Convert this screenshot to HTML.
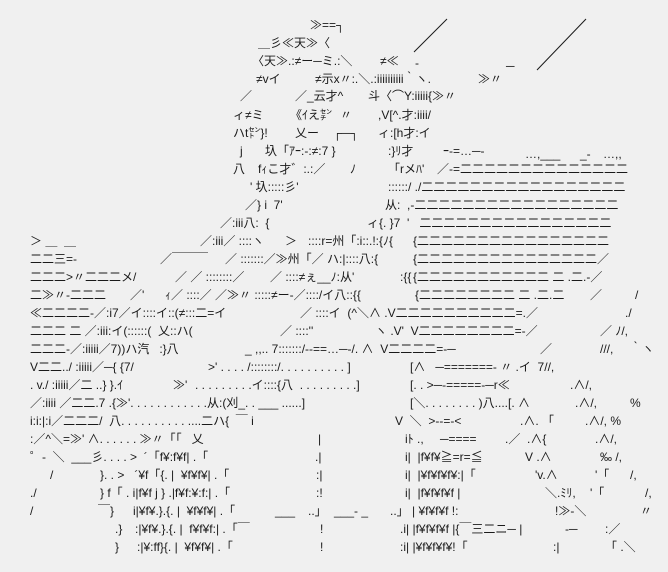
<!DOCTYPE html>
<html><head><meta charset="utf-8">
<style>
html,body{margin:0;padding:0;background:#f0f0f0;}
#c{position:relative;width:668px;height:572px;overflow:hidden;background:#f0f0f0;}
#c span{position:absolute;white-space:pre;font-family:"Liberation Sans","Noto Sans CJK JP",sans-serif;font-size:12px;line-height:16px;color:#1a1a1a;}
#c svg{position:absolute;left:0;top:0;}
</style></head><body><div id="c">
<svg width="668" height="572"><line x1="414" y1="52" x2="447" y2="19" stroke="#1a1a1a" stroke-width="1"/><line x1="537" y1="70" x2="586" y2="19" stroke="#1a1a1a" stroke-width="1"/></svg>
<span style="left:310px;top:17px">≫==┐</span>
<span style="left:258px;top:35px">＿彡≪天≫〈</span>
<span style="left:252px;top:53px">〈天≫.:≠ー─ミ.:＼</span><span style="left:380px;top:53px">≠≪</span><span style="left:415px;top:55px">-</span><span style="left:506px;top:58px">─</span>
<span style="left:256px;top:71px">≠vイ</span><span style="left:315px;top:71px">≠示x〃:.＼.:iiiiiiiiii｀ヽ.</span><span style="left:478px;top:71px">≫〃</span>
<span style="left:240px;top:88px">／</span><span style="left:295px;top:88px">／_云才^</span><span style="left:368px;top:88px">斗〈⌒Y:iiiii{≫〃</span>
<span style="left:233px;top:107px">ィ≠ミ</span><span style="left:290px;top:107px">《ｲえ㌢</span><span style="left:340px;top:107px">〃</span><span style="left:378px;top:107px">,V[^.才:iiii/</span>
<span style="left:233px;top:125px">ハt㌣}!</span><span style="left:295px;top:125px">乂ー</span><span style="left:333px;top:125px">┌─┐</span><span style="left:378px;top:125px">ィ:[h才:イ</span>
<span style="left:240px;top:143px">j</span><span style="left:265px;top:143px">圦「ｱｰ:-:≠:7 }</span><span style="left:388px;top:143px">:}ﾘ才</span><span style="left:443px;top:143px">ｰ-=…─-</span><span style="left:525px;top:146px">…,___</span><span style="left:580px;top:146px">_-</span><span style="left:603px;top:146px">…,,</span>
<span style="left:233px;top:161px">八</span><span style="left:258px;top:161px">fｨこ才゛:.:／</span><span style="left:350px;top:161px">ﾉ</span><span style="left:388px;top:161px">「rメﾊ'</span><span style="left:437px;top:161px">／-=二二二二二二二二二二二二二二</span>
<span style="left:250px;top:179px">' 圦:::::彡'</span><span style="left:388px;top:179px">::::::/ ./二二二二二二二二二二二二二二二二二</span>
<span style="left:245px;top:197px">／} i  7'</span><span style="left:385px;top:197px">从:  ,-二二二二二二二二二二二二二二二二二</span>
<span style="left:220px;top:215px">／:iii八:  {</span><span style="left:367px;top:215px">ィ{. }7  '   二二二二二二二二二二二二二二二二</span>
<span style="left:30px;top:233px">＞ ＿  ＿</span><span style="left:200px;top:233px">／:iii／ ::::ヽ</span><span style="left:285px;top:233px">＞</span><span style="left:308px;top:233px">::::r=州「:i::.!:{ﾉ{</span><span style="left:413px;top:233px">{二二二二二二二二二二二二二二二二</span>
<span style="left:30px;top:251px">二二三=-</span><span style="left:160px;top:251px">／￣￣￣</span><span style="left:225px;top:251px">／ :::::::／≫州「／ ハ:|::::八:{</span><span style="left:413px;top:251px">{二二二二二二二二二二二二二二二／</span>
<span style="left:30px;top:269px">二二二>〃二二二メ/</span><span style="left:175px;top:269px">／ ／ ::::::::／</span><span style="left:270px;top:269px">／ ::::≠ぇ__ﾉ:从'</span><span style="left:400px;top:269px">:{{</span><span style="left:413px;top:269px">{二二二二二二二二二二二 二 .二.-／</span>
<span style="left:30px;top:287px">二≫〃-二二二</span><span style="left:130px;top:287px">／'</span><span style="left:165px;top:287px">ｨ／ ::::／ ／≫〃 :::::≠ー-／::::/イ八::{{</span><span style="left:415px;top:287px">{二二二二二二二二 二 .二.二</span><span style="left:590px;top:287px">／</span><span style="left:635px;top:287px">/</span>
<span style="left:30px;top:305px">≪二二二二-／:i7／イ::::イ::(≠:::二=イ</span><span style="left:300px;top:305px">／ ::::イ  (^＼∧ .V二二二二二二二二二二=.／</span><span style="left:625px;top:305px">./</span>
<span style="left:30px;top:323px">二二二 二 ／:iii:イ(::::::(  乂::ハ(</span><span style="left:280px;top:323px">／ ::::''</span><span style="left:375px;top:323px">ヽ .V'  V二二二二二二二二=-／</span><span style="left:600px;top:323px">／ ﾉ/,</span>
<span style="left:30px;top:341px">二二二-／:iiiii／7))ハ汽   :}八</span><span style="left:245px;top:341px">_ ,,.. 7:::::::/--==…─-/. ∧  V二二二二=-─</span><span style="left:540px;top:341px">／</span><span style="left:600px;top:341px">///,</span><span style="left:630px;top:341px">｀ヽ</span>
<span style="left:30px;top:359px">V二二../ :iiiii／─{ {7/</span><span style="left:208px;top:359px">&gt;' . . . . /::::::::/. . . . . . . . . . ]</span><span style="left:410px;top:359px">[∧   ─=======- 〃 .イ  7//,</span>
<span style="left:30px;top:377px">. v./ :iiiii／二 ..} }.ｲ</span><span style="left:173px;top:377px">≫'</span><span style="left:195px;top:377px">. . . . . . . . .イ::::{八  . . . . . . . . .]</span><span style="left:410px;top:377px">[. . &gt;─-=====-─r≪</span><span style="left:570px;top:377px">.∧/,</span>
<span style="left:30px;top:395px">／:iiii ／二二.7 .{≫'. . . . . . . . . . . .从:(刈_. . ___ ......]</span><span style="left:410px;top:395px">[＼. . . . . . . . )八....[. ∧</span><span style="left:575px;top:395px">.∧/,</span><span style="left:630px;top:395px">%</span>
<span style="left:30px;top:413px">i:i:|:i／二二二/  八. . . . . . . . . . ....二ハ{  ￣ i</span><span style="left:395px;top:413px">V  ＼  &gt;--=-&lt;</span><span style="left:520px;top:413px">.∧. 「</span><span style="left:585px;top:413px">.∧/, %</span>
<span style="left:30px;top:431px">:／^＼=≫' ∧. . . . . . ≫〃「「   乂</span><span style="left:318px;top:431px">|</span><span style="left:405px;top:431px">iﾄ .,</span><span style="left:440px;top:431px">─====</span><span style="left:505px;top:431px">.／  .∧{</span><span style="left:595px;top:431px">.∧/,</span>
<span style="left:30px;top:449px">゜-  ＼  ___彡. . . . &gt;  ´「f¥:f¥f| .「</span><span style="left:315px;top:449px">.|</span><span style="left:405px;top:449px">i|  |f¥f¥≧=r=≦</span><span style="left:525px;top:449px">V .∧</span><span style="left:600px;top:449px">‰ /,</span>
<span style="left:50px;top:467px">/</span><span style="left:100px;top:467px">}. . &gt;   ´¥f「{. |  ¥f¥f¥| .「</span><span style="left:316px;top:467px">:|</span><span style="left:405px;top:467px">i|  |¥f¥f¥f¥:|「</span><span style="left:535px;top:467px">'v.∧</span><span style="left:595px;top:467px">'「</span><span style="left:630px;top:467px">/,</span>
<span style="left:30px;top:485px">./</span><span style="left:100px;top:485px">} f「 . i|f¥f j } .|f¥f:¥:f:| .「</span><span style="left:316px;top:485px">:!</span><span style="left:405px;top:485px">i|  |f¥f¥f¥f |</span><span style="left:545px;top:485px">＼.ﾐﾘ,</span><span style="left:590px;top:485px">'「</span><span style="left:645px;top:485px">/,</span>
<span style="left:30px;top:503px">/</span><span style="left:98px;top:503px">￣}</span><span style="left:133px;top:503px">i|¥f¥.}.{. |  ¥f¥f¥| .「</span><span style="left:275px;top:503px">___</span><span style="left:308px;top:503px">..」</span><span style="left:334px;top:503px">___- _</span><span style="left:390px;top:503px">..」 | ¥f¥f¥f !:</span><span style="left:555px;top:503px">!≫-＼</span><span style="left:640px;top:503px">〃</span>
<span style="left:115px;top:521px">.}</span><span style="left:135px;top:521px">:|¥f¥.}.{. |  f¥f¥f:| .「￣</span><span style="left:320px;top:521px">!</span><span style="left:400px;top:521px">.i| |f¥f¥f¥f |{￣三二ニ─ |</span><span style="left:565px;top:521px">-─</span><span style="left:605px;top:521px">:／</span>
<span style="left:115px;top:539px">}</span><span style="left:137px;top:539px">:|¥:ff}{. |  ¥f¥f¥| .「</span><span style="left:320px;top:539px">!</span><span style="left:400px;top:539px">:i| |¥f¥f¥f¥!「</span><span style="left:553px;top:539px">:|</span><span style="left:605px;top:539px">「 .＼</span>
</div></body></html>
